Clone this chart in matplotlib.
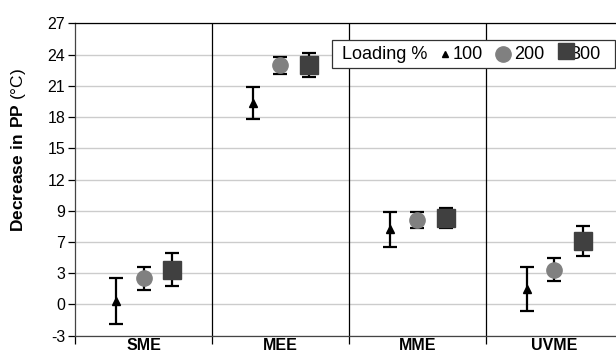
import numpy as np
import matplotlib.pyplot as plt
from matplotlib.patches import Rectangle

plt.rcParams['font.family'] = ['Liberation Sans', 'DejaVu Sans']
plt.rcParams['mathtext.fontset'] = 'custom'
plt.rcParams['mathtext.rm'] = 'Liberation Sans'
plt.rcParams['mathtext.bf'] = 'Liberation Sans:bold'

# 数据
methods = ['SME', 'MEE', 'MME', 'UVME']
loading = ['100', '200', '300']
mean_100 = [0.35, 19.35, 7.2, 1.5]
err_100 = [2.2, 1.5, 1.7, 2.1]
mean_200 = [2.5, 22.95, 8.1, 3.35]
err_200 = [1.1, 0.8, 0.8, 1.12]
mean_300 = [3.35, 23.0, 8.3, 6.1]
err_300 = [1.55, 1.15, 1.0, 1.45]
ytick_vals = [-3, 0, 3, 6, 9, 12, 15, 18, 21, 24, 27]
ytick_labels = ['-3', '0', '3', '7', '9', '12', '15', '18', '21', '24', '27']

fig = plt.figure(figsize=(6.16, 3.52), dpi=100)
ax = fig.add_axes([0.1218, 0.0463, 0.8782, 0.8875])

x = np.arange(len(methods)) + 0.5
styles = [
    (mean_100, err_100, -0.2, '^', 'black', 6),
    (mean_200, err_200, 0.0, 'o', '#808080', 11),
    (mean_300, err_300, 0.21, 's', '#404040', 13),
]
for m, e, off, mk, col, ms in styles:
    ax.errorbar(x + off, m, yerr=e, fmt='none', ecolor='black',
                elinewidth=1.6, capsize=5, capthick=1.6, zorder=3)
    ax.plot(x + off, m, linestyle='none', marker=mk, color=col,
            markersize=ms, zorder=4)

ax.set_xlim(0, 3.95)
ax.set_ylim(-3, 27)
ax.set_yticks(ytick_vals)
ax.set_yticklabels(ytick_labels, fontsize=11.5)
ax.yaxis.grid(True, color='#cccccc', linewidth=1)
ax.set_axisbelow(True)

# 分隔线
for d in [1, 2, 3]:
    ax.axvline(d, color='black', linewidth=0.9, zorder=2)
ax.set_xticks([0, 1, 2, 3])
ax.set_xticklabels([])
ax.tick_params(axis='x', length=6, width=0.9, direction='out')
ax.tick_params(axis='y', length=5, width=0.9, direction='out', pad=2)
for xi, name in zip(x, methods):
    ax.text(xi, -3.2, name, ha='center', va='top', fontsize=11.5,
            fontweight='bold', clip_on=False)

for s in ['left', 'bottom', 'top']:
    ax.spines[s].set_linewidth(0.9)
ax.spines['left'].set_color('#444444')
ax.spines['bottom'].set_color('#444444')
ax.spines['right'].set_visible(False)

fig.text(19 / 616, 1 - 150 / 352, r'$\bf{Decrease\ in\ PP}$ (°C)',
         fontsize=12.5, rotation=90, ha='center', va='center')

# 图例
def fx(px):
    return (px - 75) / 541

lx0, ly0 = fx(331.7), (335.7 - 68.3) / 312.4
lw, lh = (615 - 331.7) / 541, (68.3 - 40) / 312.4
ax.add_patch(Rectangle((lx0, ly0), lw, lh, transform=ax.transAxes,
                       facecolor='white', edgecolor='#333333',
                       linewidth=0.9, zorder=5, clip_on=False))
yc = ly0 + lh / 2
ax.text(fx(341.5), yc, 'Loading %', transform=ax.transAxes, ha='left',
        va='center', fontsize=13, zorder=6)
ax.plot([fx(444.5)], [yc], transform=ax.transAxes, marker='^',
        color='black', markersize=5, zorder=6, clip_on=False)
ax.text(fx(453), yc, loading[0], transform=ax.transAxes, ha='left',
        va='center', fontsize=13, zorder=6)
ax.plot([fx(502.7)], [yc], transform=ax.transAxes, marker='o',
        color='#808080', markersize=11, zorder=6, clip_on=False)
ax.text(fx(514), yc, loading[1], transform=ax.transAxes, ha='left',
        va='center', fontsize=13, zorder=6)
ax.text(fx(570), yc, loading[2], transform=ax.transAxes, ha='left',
        va='center', fontsize=13, zorder=6)
ax.plot([fx(566)], [yc + 0.01], transform=ax.transAxes, marker='s',
        color='#404040', markersize=12, zorder=7, clip_on=False)

fig.savefig('out.png', dpi=100)
